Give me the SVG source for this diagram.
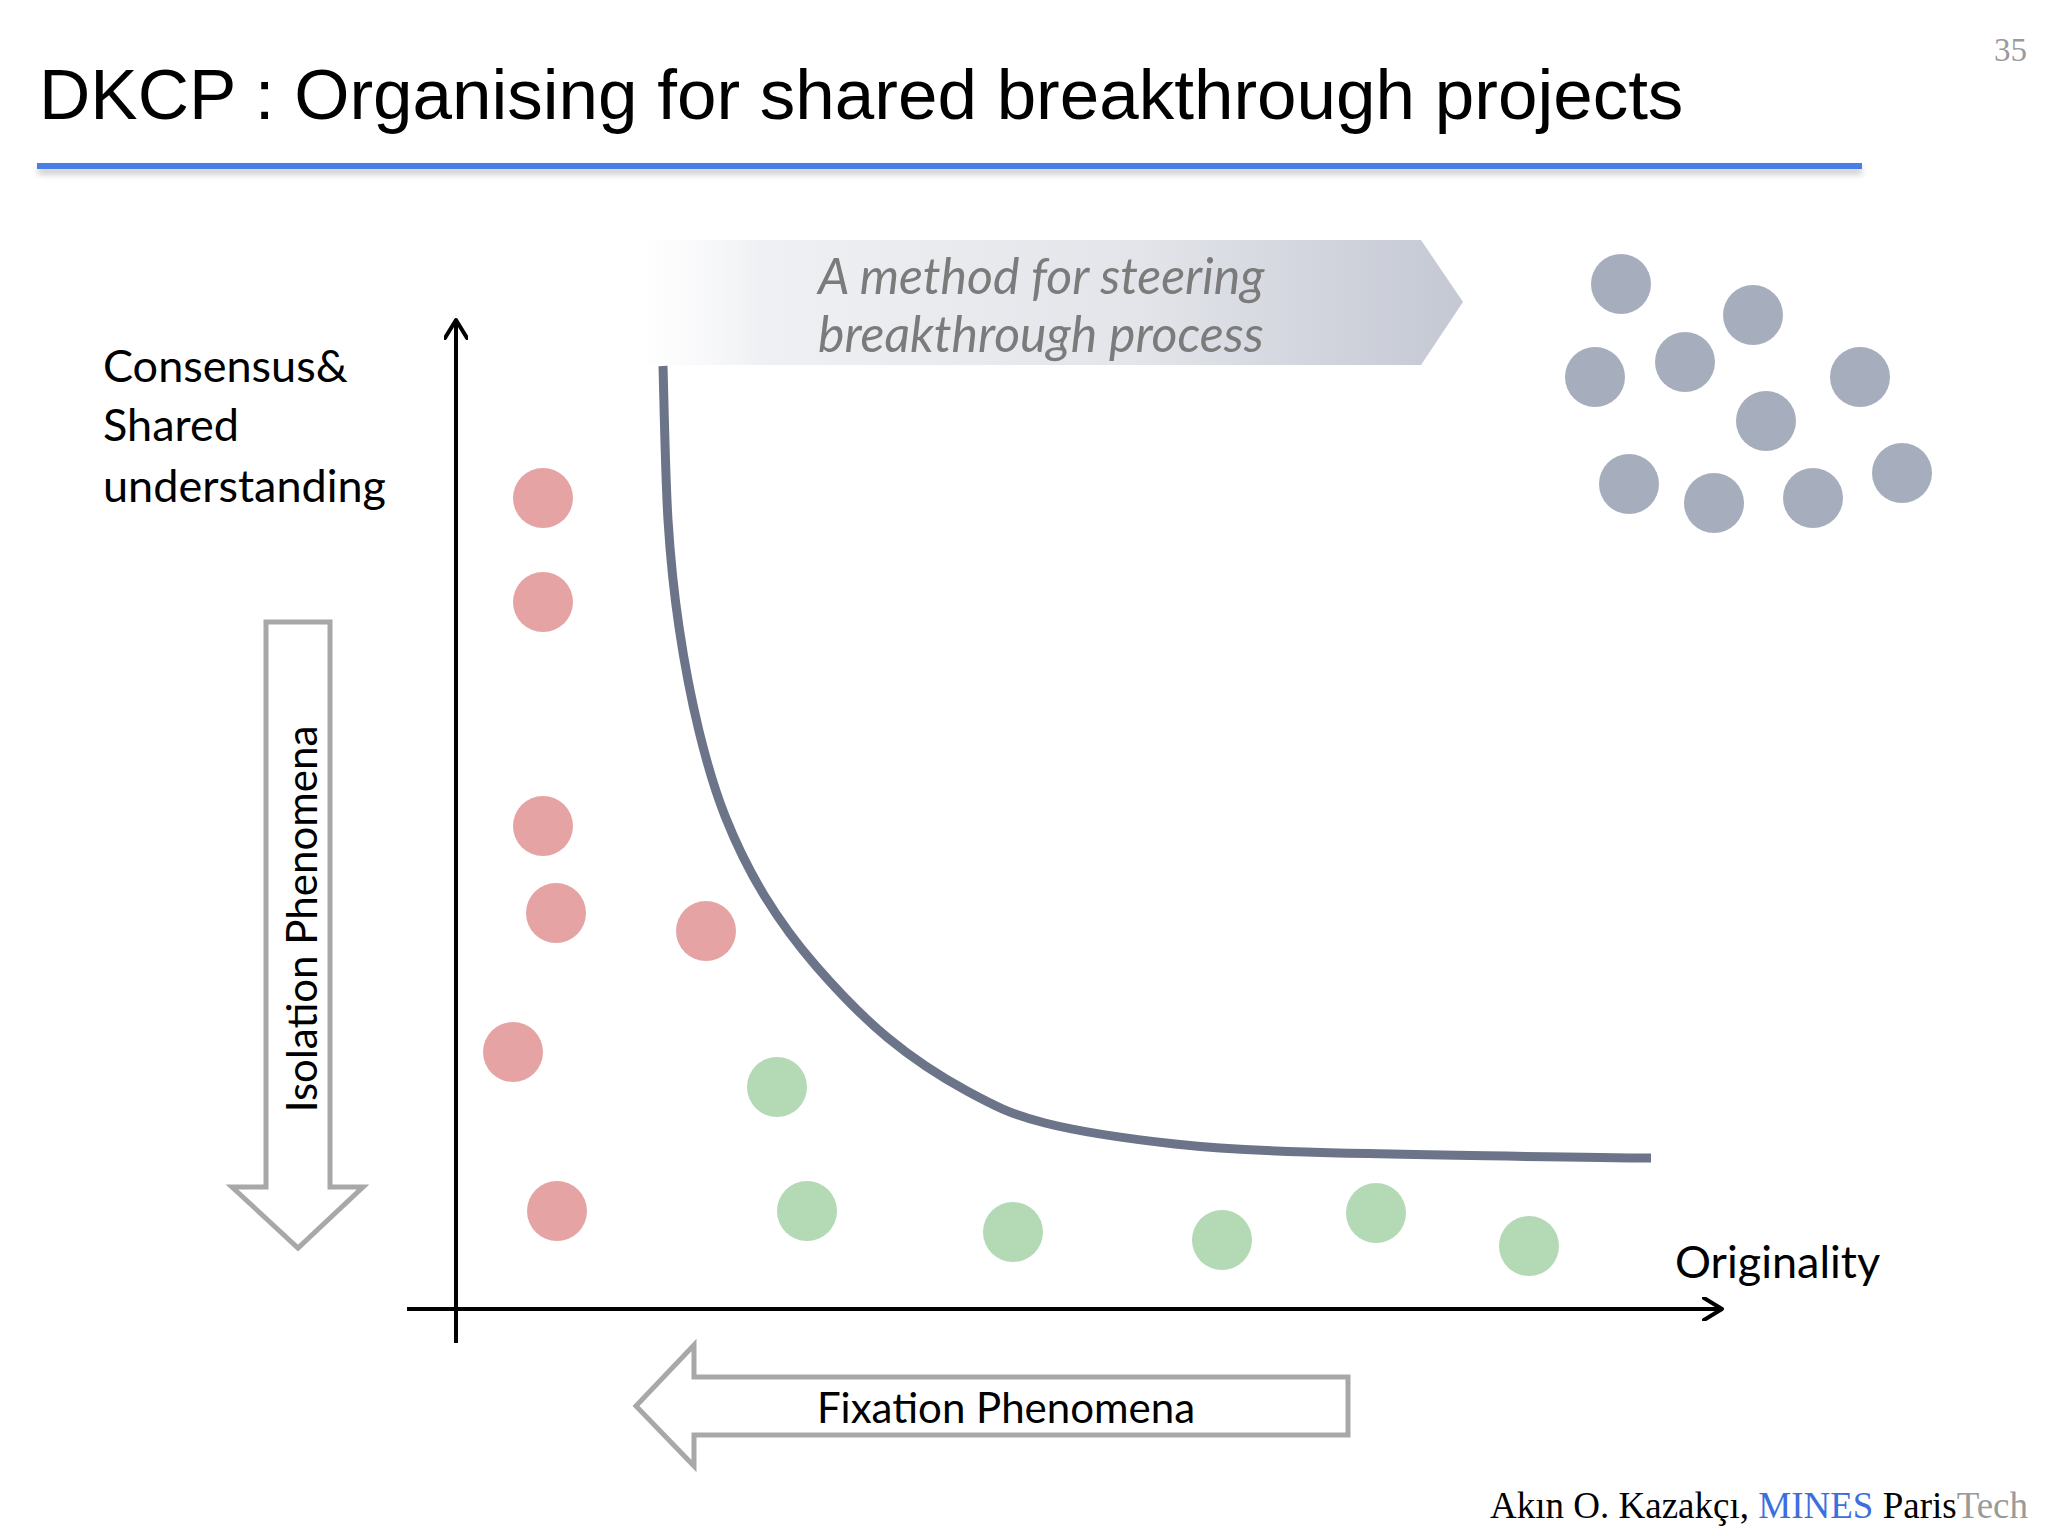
<svg xmlns="http://www.w3.org/2000/svg" width="2048" height="1536" viewBox="0 0 2048 1536">
  <defs>
    <linearGradient id="bannerGrad" x1="640" y1="0" x2="1464" y2="0" gradientUnits="userSpaceOnUse">
      <stop offset="0" stop-color="#f4f5f7" stop-opacity="0"/>
      <stop offset="0.15" stop-color="#eff0f3"/>
      <stop offset="0.6" stop-color="#e3e5ea"/>
      <stop offset="1" stop-color="#c4c8d3"/>
    </linearGradient>
    <filter id="shadow" x="-5%" y="-200%" width="110%" height="500%">
      <feGaussianBlur stdDeviation="3"/>
    </filter>
    <marker id="openArrow" viewBox="0 0 24 24" refX="20" refY="12" markerWidth="24" markerHeight="24" markerUnits="userSpaceOnUse" orient="auto">
      <path d="M2,1 L20,12 L2,23" fill="none" stroke="#000" stroke-width="4" stroke-linecap="round" stroke-linejoin="round"/>
    </marker>
    <style>
      .futura { font-family: "Lato", "Open Sans", sans-serif; font-size: 45px; fill: #000; }
      .calibri { font-family: "Lato", "Open Sans", sans-serif; font-size: 42px; fill: #000; }
      .hollow { fill: #ffffff; stroke: #a8a8a8; stroke-width: 5; stroke-linejoin: miter; }
      .red { fill: #e5a3a3; }
      .green { fill: #b3d9b5; }
      .gray { fill: #a6adbd; }
      .axis { stroke: #000; stroke-width: 4; fill: none; }
    </style>
  </defs>

  <rect width="2048" height="1536" fill="#ffffff"/>

  <!-- Title -->
  <g id="title">
    <text x="39" y="119" font-family="Liberation Sans, Arial, sans-serif" font-size="71" fill="#000">DKCP : Organising for shared breakthrough projects</text>
    <rect x="38" y="168" width="1824" height="6" fill="#888" opacity="0.5" filter="url(#shadow)"/>
    <rect x="37" y="163" width="1825" height="6" fill="#4a7de6"/>
  </g>
  <text id="page-number" x="2027" y="61" text-anchor="end" font-family="Liberation Serif, serif" font-size="33" fill="#9a9a9a">35</text>

  <!-- Banner arrow -->
  <g id="banner">
    <polygon points="640,240 1421,240 1463,302 1421,365 640,365" fill="url(#bannerGrad)"/>
    <text font-family="Lato, 'Open Sans', sans-serif" font-style="italic" font-size="50" fill="#7b7b7b">
      <tspan x="818" y="294">A method for steering</tspan>
      <tspan x="818" y="352">breakthrough process</tspan>
    </text>
  </g>

  <!-- Cluster of gray dots -->
  <g id="cluster">
    <circle class="gray" cx="1621" cy="284" r="30"/>
    <circle class="gray" cx="1753" cy="315" r="30"/>
    <circle class="gray" cx="1595" cy="377" r="30"/>
    <circle class="gray" cx="1685" cy="362" r="30"/>
    <circle class="gray" cx="1860" cy="377" r="30"/>
    <circle class="gray" cx="1766" cy="421" r="30"/>
    <circle class="gray" cx="1629" cy="484" r="30"/>
    <circle class="gray" cx="1714" cy="503" r="30"/>
    <circle class="gray" cx="1813" cy="498" r="30"/>
    <circle class="gray" cx="1902" cy="473" r="30"/>
  </g>

  <!-- Y axis label -->
  <g id="y-label">
    <text class="futura">
      <tspan x="103" y="382">Consensus&amp;</tspan>
      <tspan x="103" y="441">Shared</tspan>
      <tspan x="103" y="502">understanding</tspan>
    </text>
  </g>

  <!-- Isolation phenomena arrow -->
  <g id="isolation">
    <path class="hollow" d="M266,622 L330,622 L330,1187 L363,1187 L298,1248 L232,1187 L266,1187 Z"/>
    <text class="calibri" transform="translate(317,919) rotate(-90)" text-anchor="middle">Isolation Phenomena</text>
  </g>

  <!-- Fixation phenomena arrow -->
  <g id="fixation">
    <path class="hollow" d="M1348,1377 L694,1377 L694,1345 L636,1406 L694,1466 L694,1435 L1348,1435 Z"/>
    <text class="calibri" x="1006" y="1423" text-anchor="middle">Fixation Phenomena</text>
  </g>

  <!-- Axes and frontier curve -->
  <g id="connectors">
    <line class="axis" x1="456" y1="1343" x2="456" y2="320" marker-end="url(#openArrow)"/>
    <line class="axis" x1="407" y1="1309" x2="1722" y2="1309" marker-end="url(#openArrow)"/>
    <path id="frontier" d="M663,366 C663.8,391.7 665.3,476.5 668,520 C670.7,563.5 673.8,591.8 679,627 C684.2,662.2 691.3,699.5 699,731 C706.7,762.5 714.2,788.7 725,816 C735.8,843.3 748.8,870 764,895 C779.2,920 795.3,942.2 816,966 C836.7,989.8 862.8,1017.2 888,1038 C913.2,1058.8 940.8,1076.8 967,1091 C993.2,1105.2 1010.3,1114.2 1045,1123 C1079.7,1131.8 1131.5,1139.2 1175,1144 C1218.5,1148.8 1250,1150.5 1306,1152 C1385,1154.5 1593.5,1157.8 1651,1158" fill="none" stroke="#6b7489" stroke-width="9"/>
  </g>

  <text id="x-label" class="futura" x="1675" y="1278" font-size="46">Originality</text>

  <!-- Red dots -->
  <g id="red-dots">
    <circle class="red" cx="543" cy="498" r="30"/>
    <circle class="red" cx="543" cy="602" r="30"/>
    <circle class="red" cx="543" cy="826" r="30"/>
    <circle class="red" cx="556" cy="913" r="30"/>
    <circle class="red" cx="706" cy="931" r="30"/>
    <circle class="red" cx="513" cy="1052" r="30"/>
    <circle class="red" cx="557" cy="1211" r="30"/>
  </g>

  <!-- Green dots -->
  <g id="green-dots">
    <circle class="green" cx="777" cy="1087" r="30"/>
    <circle class="green" cx="807" cy="1211" r="30"/>
    <circle class="green" cx="1013" cy="1232" r="30"/>
    <circle class="green" cx="1222" cy="1240" r="30"/>
    <circle class="green" cx="1376" cy="1213" r="30"/>
    <circle class="green" cx="1529" cy="1246" r="30"/>
  </g>

  <!-- Footer -->
  <text id="footer" x="2028" y="1518" text-anchor="end" font-family="Liberation Serif, serif" font-size="37" fill="#000">Akın O. Kazakçı, <tspan fill="#3d6fdc">MINES</tspan> Paris<tspan fill="#9a9a9a">Tech</tspan></text>
</svg>
